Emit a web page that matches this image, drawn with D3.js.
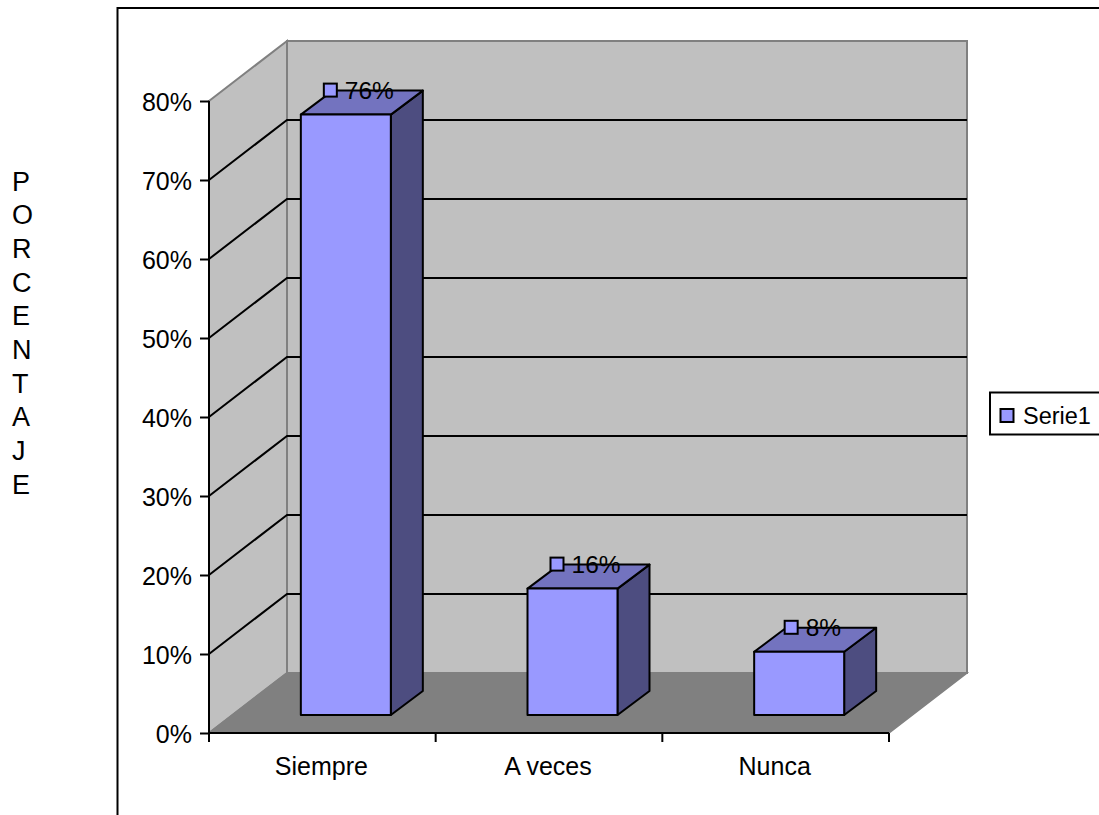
<!DOCTYPE html>
<html>
<head>
<meta charset="utf-8">
<script src="https://cdnjs.cloudflare.com/ajax/libs/d3/7.8.5/d3.min.js"></script>
<style>
  html, body { margin: 0; padding: 0; background: #fff; overflow: hidden; }
  svg { display: block; }
  text { font-family: "Liberation Sans", Arial, sans-serif; fill: #000; }
</style>
</head>
<body>
<svg id="chart" width="1099" height="815"></svg>
<script>
// Survey answers and their share of responses
const categories = ["Siempre", "A veces", "Nunca"];
const seriesValues = [0.76, 0.16, 0.08];
const valueTicks = [0, 0.1, 0.2, 0.3, 0.4, 0.5, 0.6, 0.7, 0.8];
const seriesName = "Serie1";
const axisTitle = "PORCENTAJE";

const svg = d3.select("#chart");
const FONT = 25;

// Front plane of the 3D box
const plotLeft = 209, plotRight = 889, plotBottom = 733, plotTop = 101;
// Offset of the back wall relative to the front plane
const depthX = 78, depthY = -60;

const x = d3.scaleBand().domain(categories).range([plotLeft, plotRight]);
const y = d3.scaleLinear().domain([0, 0.8]).range([plotBottom, plotTop]);

// Position of the bar block inside the box depth
const barShiftX = 23.5, barShiftY = -18;
const barWidth = 90, barDepthX = 32, barDepthY = -24;

const colors = {
  wall: "#c0c0c0", floor: "#808080", edge: "#808080",
  face: "#9999ff", cap: "#7373bf", side: "#4d4d80"
};

const poly = pts => pts.map(p => p.join(",")).join(" ");

// Outer chart frame
svg.append("rect")
  .attr("x", 117.5).attr("y", 8).attr("width", 1100).attr("height", 900)
  .attr("fill", "#fff").attr("stroke", "#000").attr("stroke-width", 2);

const backL = plotLeft + depthX, backR = plotRight + depthX;
const backB = plotBottom + depthY, backT = plotTop + depthY;

// Walls and floor
svg.append("polygon")
  .attr("points", poly([[backL, backT], [backR, backT], [backR, backB], [backL, backB]]))
  .attr("fill", colors.wall).attr("stroke", colors.edge).attr("stroke-width", 2);
svg.append("polygon")
  .attr("points", poly([[plotLeft, plotTop], [backL, backT], [backL, backB], [plotLeft, plotBottom]]))
  .attr("fill", colors.wall).attr("stroke", colors.edge).attr("stroke-width", 2);
svg.append("polygon")
  .attr("points", poly([[plotLeft, plotBottom], [plotRight, plotBottom], [backR, backB], [backL, backB]]))
  .attr("fill", colors.floor).attr("stroke", colors.edge).attr("stroke-width", 1.5);

// Gridlines wrap from the left wall onto the back wall
const grid = svg.append("g").attr("fill", "none").attr("stroke", "#000").attr("stroke-width", 2);
valueTicks.filter(v => v > 0 && v < 0.8).forEach(v => {
  grid.append("polyline").attr("points", poly([
    [plotLeft, y(v)], [backL, y(v) + depthY], [backR, y(v) + depthY]
  ]));
});

// Value axis
const yAxis = svg.append("g")
  .attr("transform", `translate(${plotLeft},0)`)
  .call(d3.axisLeft(y).tickValues(valueTicks).tickFormat(d3.format(".0%")).tickSize(9).tickPadding(8));
yAxis.selectAll("path,line").attr("stroke", "#000").attr("stroke-width", 2);
yAxis.select(".domain").attr("d", `M0,${plotTop}V${plotBottom}`);
yAxis.selectAll("text")
  .attr("font-size", FONT)
  .attr("dy", "0.36em")
  .attr("fill", "#111")
  .attr("font-family", '"Liberation Sans", Arial, sans-serif');

// Category axis: ticks sit on the band boundaries
const xAxis = svg.append("g").attr("transform", `translate(0,${plotBottom})`);
const boundaries = d3.scaleLinear().domain([0, categories.length]).range([plotLeft, plotRight]);
xAxis.selectAll("line.tick-mark").data(d3.range(categories.length + 1)).join("line")
  .attr("class", "tick-mark")
  .attr("x1", i => boundaries(i)).attr("x2", i => boundaries(i))
  .attr("y1", 0).attr("y2", 9)
  .attr("stroke", "#000").attr("stroke-width", 2);
xAxis.append("line").attr("x1", plotLeft).attr("x2", plotRight)
  .attr("stroke", "#000").attr("stroke-width", 2);
xAxis.selectAll("text").data(categories).join("text")
  .attr("x", d => x(d) + x.bandwidth() / 2 - 1)
  .attr("y", 42)
  .attr("text-anchor", "middle")
  .attr("font-size", FONT)
  .text(d => d);

// Bars as three-faced blocks
const bars = svg.append("g").attr("stroke", "#000").attr("stroke-width", 2).attr("stroke-linejoin", "round");
categories.forEach((c, i) => {
  const x0 = x(c) + (x.bandwidth() - barWidth) / 2 + barShiftX;
  const x1 = x0 + barWidth;
  const yTop = y(seriesValues[i]) + barShiftY;
  const yBase = y(0) + barShiftY;
  bars.append("polygon").attr("fill", colors.side).attr("points", poly([
    [x1, yTop], [x1 + barDepthX, yTop + barDepthY], [x1 + barDepthX, yBase + barDepthY], [x1, yBase]
  ]));
  bars.append("polygon").attr("fill", colors.cap).attr("points", poly([
    [x0, yTop], [x0 + barDepthX, yTop + barDepthY], [x1 + barDepthX, yTop + barDepthY], [x1, yTop]
  ]));
  bars.append("rect").attr("fill", colors.face)
    .attr("x", x0).attr("y", yTop).attr("width", barWidth).attr("height", yBase - yTop);
});

// Value markers and their labels, on the back edge of each block
const markers = svg.append("g");
const markerSize = 13;
categories.forEach((c, i) => {
  const x0 = x(c) + (x.bandwidth() - barWidth) / 2 + barShiftX;
  const nudge = i === 2 ? 7.5 : 0;
  const cx = x0 + 29.5 + nudge;
  const cy = y(seriesValues[i]) + barShiftY + barDepthY - 0.5;
  markers.append("rect")
    .attr("x", cx - markerSize / 2).attr("y", cy - markerSize / 2)
    .attr("width", markerSize).attr("height", markerSize)
    .attr("fill", colors.face).attr("stroke", "#000").attr("stroke-width", 2);
  markers.append("text")
    .attr("x", cx + 14.5).attr("y", cy + 9)
    .attr("font-size", 24.5)
    .attr("fill", "#1a1a1a")
    .text(d3.format(".0%")(seriesValues[i]));
});

// Vertical axis title, one letter per line
svg.append("g").selectAll("text").data(axisTitle.split("")).join("text")
  .attr("x", 12).attr("y", (d, i) => 190.5 + i * 33.7)
  .attr("font-size", 27)
  .text(d => d);

// Legend
const legend = svg.append("g");
legend.append("rect")
  .attr("x", 990).attr("y", 392.5).attr("width", 130).attr("height", 42)
  .attr("fill", "#fff").attr("stroke", "#000").attr("stroke-width", 2);
legend.append("rect")
  .attr("x", 1000.5).attr("y", 409).attr("width", 13).attr("height", 13)
  .attr("fill", colors.face).attr("stroke", "#000").attr("stroke-width", 2);
legend.append("text")
  .attr("x", 1023).attr("y", 424)
  .attr("font-size", 23.5)
  .text(seriesName);
</script>
</body>
</html>
